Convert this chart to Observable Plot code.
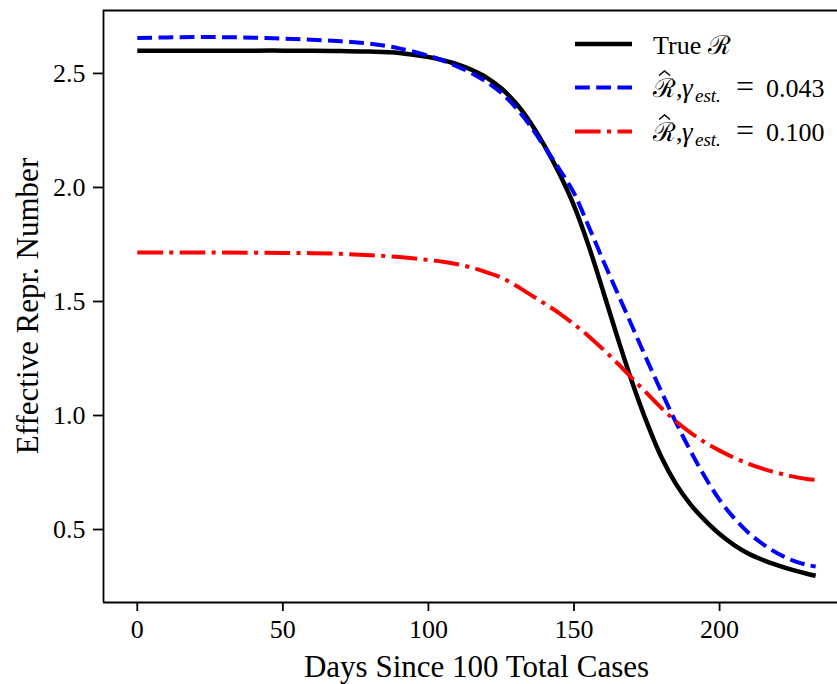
<!DOCTYPE html>
<html>
<head>
<meta charset="utf-8">
<script src="https://cdn.jsdelivr.net/npm/d3@7"></script>
<script src="https://cdn.jsdelivr.net/npm/@observablehq/plot@0.6"></script>
<style>
  html, body { margin: 0; padding: 0; background: #fff; }
  #chart svg { display: block; }
</style>
</head>
<body>
<div id="chart"></div>
<script>
// ---- data ----
const days = [0, 10, 20, 30, 40, 50, 60, 70, 80, 90, 100, 105, 110, 115, 120, 125, 130, 135, 140, 145,
  150, 155, 160, 165, 170, 175, 180, 185, 190, 195, 200, 205, 210, 215, 220, 225, 230, 233];

const trueR = [2.600, 2.600, 2.600, 2.600, 2.600, 2.600, 2.599, 2.598, 2.596, 2.590, 2.572, 2.558, 2.540,
  2.515, 2.482, 2.435, 2.370, 2.285, 2.180, 2.060, 1.920, 1.745, 1.545, 1.340, 1.145, 0.970, 0.818, 0.700,
  0.610, 0.540, 0.480, 0.432, 0.394, 0.366, 0.343, 0.323, 0.306, 0.297];

const estR043 = [2.655, 2.658, 2.660, 2.659, 2.657, 2.653, 2.648, 2.641, 2.630, 2.610, 2.578, 2.556, 2.530,
  2.500, 2.462, 2.415, 2.350, 2.270, 2.175, 2.080, 1.975, 1.830, 1.680, 1.535, 1.390, 1.245, 1.105, 0.970,
  0.845, 0.730, 0.630, 0.550, 0.485, 0.435, 0.395, 0.365, 0.345, 0.338];

const estR100 = [1.715, 1.715, 1.715, 1.715, 1.714, 1.713, 1.712, 1.709, 1.703, 1.695, 1.682, 1.674, 1.663,
  1.648, 1.628, 1.605, 1.570, 1.530, 1.490, 1.448, 1.400, 1.348, 1.290, 1.228, 1.163, 1.098, 1.033, 0.975,
  0.925, 0.882, 0.846, 0.815, 0.788, 0.766, 0.748, 0.733, 0.722, 0.718];

const xTicks = [0, 50, 100, 150, 200];
const yTicks = [0.5, 1.0, 1.5, 2.0, 2.5];
const xLabel = "Days Since 100 Total Cases";
const yLabel = "Effective Repr. Number";
const seriesNames = ["True ", "0.043", "0.100"];

// ---- chart ----
const xDomain = [-11.6, 240.5];
const yDomain = [0.18, 2.776];
const serif = "'Liberation Serif', 'Times New Roman', serif";

const rows = (vals) => days.map((d, i) => ({day: d, r: vals[i]}));

const chart = Plot.plot({
  width: 837,
  height: 684,
  marginLeft: 103,
  marginRight: 0,
  marginTop: 10,
  marginBottom: 82,
  style: {fontFamily: serif, fontSize: "26px", color: "black", background: "white", overflow: "hidden"},
  x: {domain: xDomain},
  y: {domain: yDomain},
  marks: [
    Plot.line(rows(trueR), {x: "day", y: "r", stroke: "black", strokeWidth: 4.5, curve: "catmull-rom", strokeLinecap: "butt"}),
    Plot.line(rows(estR043), {x: "day", y: "r", stroke: "#0000ff", strokeWidth: 4, strokeDasharray: "14.8,6.4", curve: "catmull-rom", strokeLinecap: "butt"}),
    Plot.line(rows(estR100), {x: "day", y: "r", stroke: "#ff0000", strokeWidth: 4, strokeDasharray: "25.6,6.4,4,6.4", curve: "catmull-rom", strokeLinecap: "butt"}),
    Plot.axisX(xTicks, {tickSize: 9, tickPadding: 8, strokeWidth: 1.8, label: null, fontSize: 26, fontFamily: serif}),
    Plot.axisY(yTicks, {tickSize: 10, tickPadding: 8, strokeWidth: 1.8, label: null, tickFormat: d3.format(".1f"), fontSize: 26, fontFamily: serif}),
    Plot.ruleX([xDomain[0]], {stroke: "black", strokeWidth: 1.8}),
    Plot.ruleY([yDomain[0], yDomain[1]], {stroke: "black", strokeWidth: 1.8})
  ]
});

document.getElementById("chart").appendChild(chart);

// ---- axis titles and legend ----
const svg = d3.select(chart);

svg.append("text")
  .attr("x", 476.5).attr("y", 676.5)
  .attr("text-anchor", "middle")
  .style("font-family", serif).style("font-size", "31px").attr("fill", "black")
  .text(xLabel);

svg.append("text")
  .attr("transform", "translate(37.5,306) rotate(-90)")
  .attr("text-anchor", "middle")
  .style("font-family", serif).style("font-size", "31px").attr("fill", "black")
  .text(yLabel);

const legend = svg.append("g")
  .attr("text-anchor", "start")
  .style("font-family", serif).style("font-size", "26px").attr("fill", "black");
const legendRows = [
  {y: 44, stroke: "black", width: 4.5, dash: null, kind: "true"},
  {y: 87.5, stroke: "#0000ff", width: 4, dash: "14.8,6.4", kind: "est", val: seriesNames[1]},
  {y: 131.5, stroke: "#ff0000", width: 4, dash: "25.6,6.4,4,6.4", kind: "est", val: seriesNames[2]}
];
legendRows.forEach(r => {
  const ln = legend.append("line")
    .attr("x1", 575).attr("x2", 632).attr("y1", r.y).attr("y2", r.y)
    .attr("stroke", r.stroke).attr("stroke-width", r.width);
  if (r.dash) ln.attr("stroke-dasharray", r.dash);
  const t = legend.append("text").attr("x", 653).attr("y", r.y + 9.5).attr("text-anchor", "start");
  if (r.kind === "true") {
    t.append("tspan").text(seriesNames[0]);
    t.append("tspan").text("\u211B");
  } else {
    // circumflex accent over the R, drawn as a small stroke
    legend.append("path")
      .attr("d", `M${659},${r.y - 12} L${664.5},${r.y - 16.5} L${670},${r.y - 12}`)
      .attr("fill", "none").attr("stroke", "black").attr("stroke-width", 1.4);
    t.append("tspan").text("\u211B");
    t.append("tspan").text(",");
    t.append("tspan").attr("x", 682).style("font-style", "italic").style("font-size", "27px").text("\u03B3");
    t.append("tspan").attr("x", 695).attr("dy", 5).style("font-style", "italic").style("font-size", "19px").text("est.");
    t.append("tspan").attr("x", 736).attr("dy", -5).style("font-size", "32px").text("=");
    t.append("tspan").attr("x", 766).text(r.val);
  }
});
</script>
</body>
</html>
